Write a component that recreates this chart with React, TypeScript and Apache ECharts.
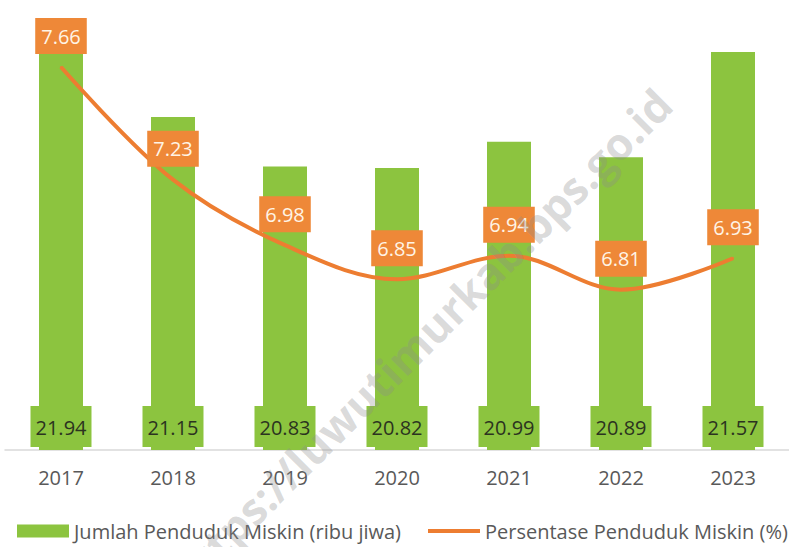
import React, { useEffect, useRef } from "react";
import * as echarts from "echarts";

const years = ["2017", "2018", "2019", "2020", "2021", "2022", "2023"];
const poorCount = [21.94, 21.15, 20.83, 20.82, 20.99, 20.89, 21.57];
const poorPercent = [7.66, 7.23, 6.98, 6.85, 6.94, 6.81, 6.93];
const barName = "Jumlah Penduduk Miskin (ribu jiwa)";
const lineName = "Persentase Penduduk Miskin (%)";
const watermark = "https://luwutimurkab.bps.go.id";

const FONT = "'Open Sans', 'Noto Sans', sans-serif";

export default function App() {
  const ref = useRef<HTMLDivElement>(null);
  useEffect(() => {
    if (!ref.current) return;
    const chart = echarts.init(ref.current, null, { renderer: "svg" });
    const legendBase = {
      top: 516,
      itemWidth: 52,
      itemHeight: 13,
      textStyle: { color: "#595959", fontSize: 20, fontFamily: FONT },
    };
    chart.setOption({
      animation: false,
      backgroundColor: "#ffffff",
      grid: { left: 5, right: 0, top: 22, bottom: 97 },
      xAxis: {
        type: "category",
        data: years,
        axisTick: { show: false },
        axisLine: { lineStyle: { color: "#d9d9d9", width: 1.5 } },
        axisLabel: { color: "#595959", fontSize: 20, fontFamily: FONT, margin: 17 },
      },
      yAxis: [
        { type: "value", min: 19, max: 21.763, show: false, splitLine: { show: false } },
        { type: "value", min: 6.198, max: 7.832, show: false, splitLine: { show: false } },
      ],
      legend: [
        { ...legendBase, left: 12, data: [{ name: barName, icon: "rect" }] },
        {
          ...legendBase,
          left: 423,
          data: [{ name: lineName, icon: "path://M0,0H52V4H0Z", itemStyle: { color: "#ed7d31" } }],
        },
      ],
      series: [
        {
          name: barName,
          type: "bar",
          data: poorCount,
          barWidth: 44,
          yAxisIndex: 0,
          itemStyle: { color: "#8cc43f" },
          label: {
            show: true,
            position: "insideBottom",
            distance: 3,
            color: "#2b3320",
            fontSize: 20,
            fontFamily: FONT,
            backgroundColor: "#8cc43f",
            padding: [9, 5, 8, 5],
            lineHeight: 24,
            formatter: (p: any) => p.value.toFixed(2),
          },
        },
        {
          name: lineName,
          type: "line",
          data: poorPercent,
          yAxisIndex: 1,
          smooth: 0.35,
          symbol: "circle",
          symbolSize: 2,
          showSymbol: true,
          lineStyle: { color: "#ed7d31", width: 4 },
          itemStyle: { color: "#ed7d31" },
          label: {
            show: true,
            position: "top",
            distance: 12,
            color: "#fff4e6",
            fontSize: 20,
            fontFamily: FONT,
            backgroundColor: "#ee8838",
            padding: [6, 6, 6, 6],
            lineHeight: 24,
            formatter: (p: any) => p.value.toFixed(2),
          },
        },
      ],
      graphic: [
        {
          type: "text",
          x: 420,
          y: 340,
          rotation: Math.PI / 4,
          z: 100,
          silent: true,
          style: {
            text: watermark,
            fill: "rgba(140,140,140,0.32)",
            font: "bold 44px 'Open Sans', sans-serif",
            align: "center",
            verticalAlign: "middle",
          },
        },
      ],
    });
    return () => chart.dispose();
  }, []);
  return <div ref={ref} style={{ width: 789, height: 547, position: "absolute", left: 0, top: 0 }} />;
}
